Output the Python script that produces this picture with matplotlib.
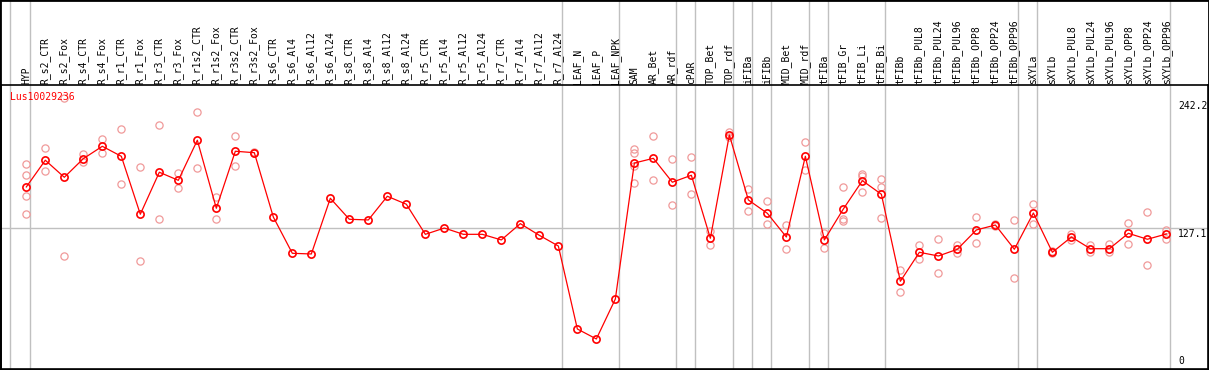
import matplotlib
matplotlib.use("Agg")
import matplotlib.pyplot as plt
from matplotlib.patches import Rectangle

# sample names along the x axis
labels = ["HYP",
          "R_s2_CTR", "R_s2_Fox", "R_s4_CTR", "R_s4_Fox", "R_r1_CTR", "R_r1_Fox",
          "R_r3_CTR", "R_r3_Fox", "R_r1s2_CTR", "R_r1s2_Fox", "R_r3s2_CTR", "R_r3s2_Fox",
          "R_s6_CTR", "R_s6_Al4", "R_s6_Al12", "R_s6_Al24",
          "R_s8_CTR", "R_s8_Al4", "R_s8_Al12", "R_s8_Al24",
          "R_r5_CTR", "R_r5_Al4", "R_r5_Al12", "R_r5_Al24",
          "R_r7_CTR", "R_r7_Al4", "R_r7_Al12", "R_r7_Al24",
          "LEAF_N", "LEAF_P", "LEAF_NPK",
          "SAM", "AR_Bet", "AR_rdf", "cPAR", "TOP_Bet", "TOP_rdf", "iFIBa", "iFIBb",
          "MID_Bet", "MID_rdf", "tFIBa", "tFIB_Gr", "tFIB_Li", "tFIB_Bi",
          "tFIBb", "tFIBb_PUL8", "tFIBb_PUL24", "tFIBb_PUL96",
          "tFIBb_OPP8", "tFIBb_OPP24", "tFIBb_OPP96",
          "sXYLa", "sXYLb", "sXYLb_PUL8", "sXYLb_PUL24", "sXYLb_PUL96",
          "sXYLb_OPP8", "sXYLb_OPP24", "sXYLb_OPP96"]

# sizes of the sample groups (separated by grey lines)
group_sizes = [1, 28, 3, 3, 1, 2, 1, 1, 2, 1, 3, 7, 1, 7]

# mean expression per sample
means = [163.4, 187.2, 172.0, 188.6, 199.6, 190.7, 139.1, 176.5, 169.3, 205.0,
         144.4, 195.2, 193.9, 136.6, 104.3, 103.7, 153.3, 134.6, 134.0, 155.1,
         148.0, 121.2, 126.8, 121.2, 121.2, 116.2, 130.7, 120.3, 110.8, 36.9,
         28.0, 63.6, 184.7, 188.9, 167.6, 173.8, 117.7, 209.7, 151.8, 139.9,
         118.8, 190.7, 116.2, 143.8, 169.0, 156.9, 79.4, 105.2, 101.9, 107.9,
         125.1, 129.5, 107.9, 140.2, 105.2, 118.8, 108.4, 108.4, 122.1, 116.8,
         121.5]

# individual replicates
replicates = [
    [183.9, 173.8, 155.1, 139.1],
    [197.8, 177.4], [242.2, 101.9], [193.0, 185.9], [206.1, 193.4],
    [214.8, 165.8], [180.9, 97.2], [218.3, 134.6], [175.6, 162.7],
    [229.9, 180.0], [154.5, 134.6], [208.5, 181.8], [194.6, 193.2],
    [], [], [], [], [], [], [], [], [], [], [], [], [], [], [], [],
    [], [], [],
    [197.2, 193.7, 182.1, 166.7], [208.5, 169.3], [188.0, 147.1],
    [189.8, 156.9], [123.9, 112.0], [212.6, 208.2], [161.6, 141.7],
    [150.9, 130.1], [129.5, 107.9], [203.2, 178.2], [122.5, 108.8],
    [163.1, 134.9, 133.4], [174.9, 172.9, 159.2], [170.5, 163.1, 135.8],
    [89.2, 69.8], [111.7, 99.0], [117.0, 86.5], [111.7, 104.6],
    [136.4, 113.2], [130.6, 128.4], [133.7, 82.0],
    [148.0, 130.1], [106.2, 104.2], [121.2, 116.4], [111.7, 105.2],
    [112.6, 105.2], [131.0, 112.3], [140.8, 93.6], [124.9, 117.0],
]

gene = "Lus10029236"
y_max = 242.2
y_mid = 127.1

W, H = 1209, 370
fig = plt.figure(figsize=(W / 100, H / 100), dpi=100)
# plot area: pixel rows 85..369
ax_top, ax_bot = 85, 369
ax = fig.add_axes([1 / W, (H - ax_bot) / H, 1207 / W, (ax_bot - ax_top) / H])

x = list(range(len(labels)))
mono = "DejaVu Sans Mono"
grey = "#c0c0c0"
red = "#ff0000"
pale = "#f09a9a"

ax.set_xlim(-1.332, 62.19)
ax.set_ylim(1.25, 254.2)

# group separators, running through the header too
ymax_frac = 1 + ax_top / (ax_bot - ax_top)
pos = -1
ax.axvline(pos + 0.14, ymin=0, ymax=ymax_frac, color=grey, lw=1, clip_on=False, zorder=1)
for g in group_sizes:
    pos += g
    ax.axvline(pos + 0.21, ymin=0, ymax=ymax_frac, color=grey, lw=1, clip_on=False, zorder=1)

ax.axhline(y_mid, color=grey, lw=1, zorder=1)

# replicates
rx, ry = [], []
for i, reps in enumerate(replicates):
    for v in reps:
        rx.append(i)
        ry.append(v)
ax.plot(rx, ry, linestyle="none", marker="o", ms=5.2, mfc="none",
        mec=pale, mew=0.9, zorder=2)

# means
ax.plot(x, means, color=red, lw=0.9, marker="o", ms=5.2, mfc="none",
        mec=red, mew=1.2, zorder=3)

# sample labels in the header
for i, lab in enumerate(labels):
    ax.text(i, 1 + 1.5 / (ax_bot - ax_top), lab, rotation=90, ha="center",
            va="bottom", fontsize=7, family=mono, transform=ax.get_xaxis_transform(),
            clip_on=False)

ax.text(9 / 1207, 1 - 12 / (ax_bot - ax_top), gene, color=red, fontsize=7,
        family=mono, ha="left", va="center", transform=ax.transAxes)

# right-hand scale labels
ax.annotate(f"{y_max}", (60.62, y_max), xytext=(0, -3), textcoords="offset pixels",
            ha="left", va="top", fontsize=7, family=mono)
ax.annotate(f"{y_mid}", (60.62, y_mid), xytext=(0, -1), textcoords="offset pixels",
            ha="left", va="top", fontsize=7, family=mono)
ax.annotate("0", (60.62, 0), xycoords=("data", "axes fraction"), xytext=(0, 3),
            textcoords="offset pixels", ha="left", va="bottom", fontsize=7, family=mono)

ax.set_xticks([])
ax.set_yticks([])
for s in ax.spines.values():
    s.set_color("black")
    s.set_linewidth(1.2)

fig.add_artist(Rectangle((0, 0), 1, 1, transform=fig.transFigure, fill=False,
                         ec="black", lw=2))

fig.savefig("out.png", dpi=100)
